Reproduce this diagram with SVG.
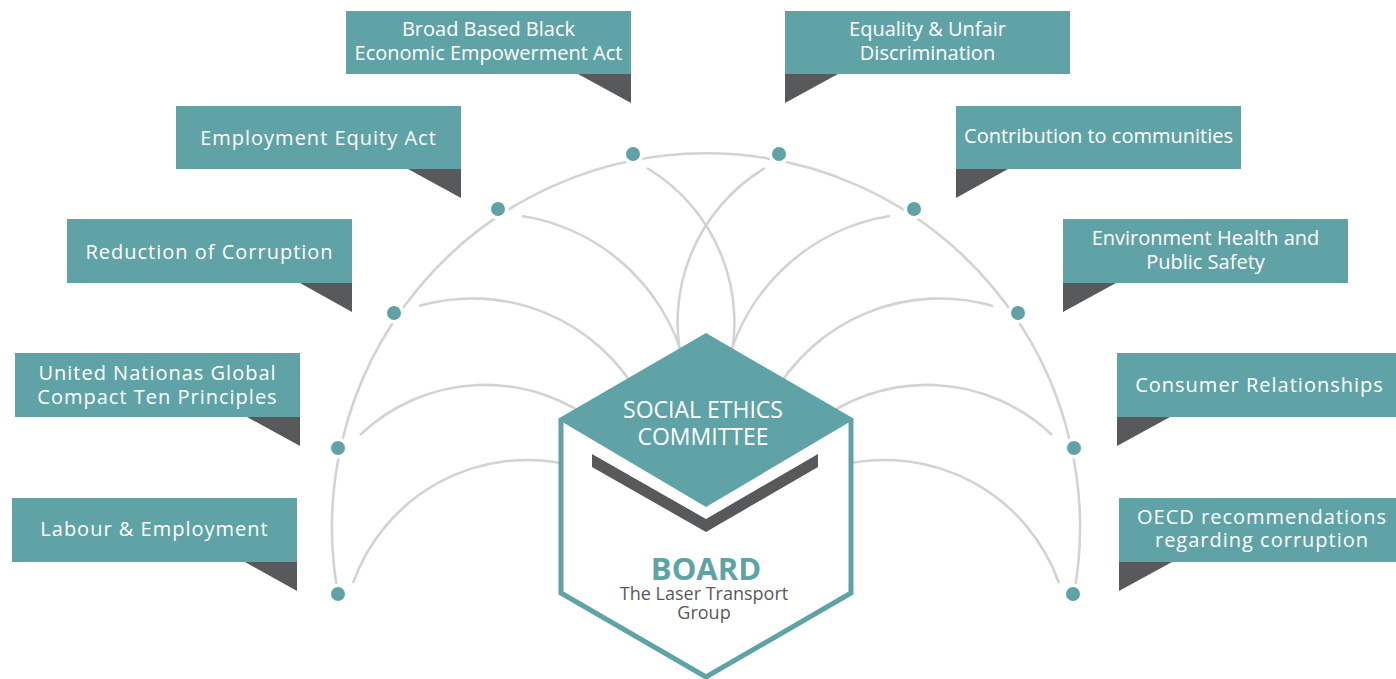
<svg xmlns="http://www.w3.org/2000/svg" width="1396" height="679" viewBox="0 0 1396 679">
<style>
.box{fill:#5fa3a6}
.flag{fill:#58595b}
.lbl{font-family:"Open Sans","Noto Sans","Liberation Sans",sans-serif;font-size:20px;fill:#ffffff;text-anchor:middle}
.sp{letter-spacing:1px}
.big{font-size:23px}
.sub{font-family:"Open Sans","Noto Sans","Liberation Sans",sans-serif;font-size:18px;fill:#58595b;text-anchor:middle}
.arc{fill:none;stroke:#d3d3d3;stroke-width:2.6}
.dot{fill:#5fa3a6;stroke:#ffffff;stroke-width:7;paint-order:stroke}
</style>
<rect width="1396" height="679" fill="#ffffff"/>
<g id="connectors">
<path class="arc" d="M338,594 A374,374 0 1 1 1074,594"/>
<path class="arc" d="M353,583 A185,185 0 0 1 570,465"/>
<path class="arc" d="M360,435 A181,181 0 0 1 600,426"/>
<path class="arc" d="M419,306 A192,192 0 0 1 640,397"/>
<path class="arc" d="M522,216 A200,200 0 0 1 688,380"/>
<path class="arc" d="M647,168 A180,180 0 0 1 728,370"/>
<path class="arc" d="M1059,583 A185,185 0 0 0 842,465"/>
<path class="arc" d="M1052,435 A181,181 0 0 0 812,426"/>
<path class="arc" d="M993,306 A192,192 0 0 0 772,397"/>
<path class="arc" d="M890,216 A200,200 0 0 0 724,380"/>
<path class="arc" d="M765,168 A180,180 0 0 0 684,370"/>
</g>
<g id="center">
<path d="M561,420 L561,593 L706,677 L851,593 L851,420 L706,336 Z" fill="#ffffff" stroke="#5fa3a6" stroke-width="5"/>
<path d="M706,334 L853,420 L706,507 L559,420 Z" fill="#5fa3a6"/>
<path d="M592,454 L706,519 L818,454 L818,467 L706,532 L592,467 Z" fill="#58595b"/>
<text class="lbl big" x="703" y="418">SOCIAL ETHICS</text>
<text class="lbl big" x="703" y="445">COMMITTEE</text>
<text x="706" y="580" text-anchor="middle" font-family="'Open Sans','Liberation Sans',sans-serif" font-weight="bold" font-size="31" fill="#5fa3a6">BOARD</text>
<text class="sub" x="704" y="600">The Laser Transport</text>
<text class="sub" x="704" y="619">Group</text>
</g>
<g id="n-bbbee">
<rect class="box" x="346" y="11" width="285" height="63"/>
<path class="flag" d="M578,74 L631,74 L631,103 Z"/>
<text class="lbl" x="488.5" y="35.5">Broad Based Black</text>
<text class="lbl" x="488.5" y="60">Economic Empowerment Act</text>
<circle class="dot" cx="633" cy="154" r="7"/>
</g>
<g id="n-eea">
<rect class="box" x="176" y="106" width="285" height="63"/>
<path class="flag" d="M408,169 L461,169 L461,198 Z"/>
<text class="lbl sp" x="318.5" y="145">Employment Equity Act</text>
<circle class="dot" cx="498" cy="209" r="7"/>
</g>
<g id="n-corruption">
<rect class="box" x="67" y="219" width="285" height="64"/>
<path class="flag" d="M300,283 L352,283 L352,312 Z"/>
<text class="lbl sp" x="209.5" y="258.5">Reduction of Corruption</text>
<circle class="dot" cx="394" cy="313" r="7"/>
</g>
<g id="n-ungc">
<rect class="box" x="15" y="353" width="285" height="64"/>
<path class="flag" d="M247,417 L300,417 L300,446 Z"/>
<text class="lbl sp" x="157.5" y="380">United Nationas Global</text>
<text class="lbl sp" x="157.5" y="404">Compact Ten Principles</text>
<circle class="dot" cx="338" cy="448" r="7"/>
</g>
<g id="n-labour">
<rect class="box" x="12" y="498" width="285" height="64"/>
<path class="flag" d="M245,562 L297,562 L297,591 Z"/>
<text class="lbl sp" x="154.5" y="536">Labour &amp; Employment</text>
<circle class="dot" cx="338" cy="594" r="7"/>
</g>
<g id="n-equality">
<rect class="box" x="785" y="11" width="285" height="63"/>
<path class="flag" d="M785,74 L838,74 L785,103 Z"/>
<text class="lbl" x="927.5" y="36">Equality &amp; Unfair</text>
<text class="lbl" x="927.5" y="60">Discrimination</text>
<circle class="dot" cx="779" cy="154" r="7"/>
</g>
<g id="n-communities">
<rect class="box" x="956" y="106" width="285" height="63"/>
<path class="flag" d="M956,169 L1008,169 L956,198 Z"/>
<text class="lbl" x="1098.5" y="143">Contribution to communities</text>
<circle class="dot" cx="914" cy="209" r="7"/>
</g>
<g id="n-environment">
<rect class="box" x="1063" y="219" width="285" height="64"/>
<path class="flag" d="M1063,283 L1116,283 L1063,312 Z"/>
<text class="lbl" x="1205.5" y="245">Environment Health and</text>
<text class="lbl" x="1205.5" y="268.5">Public Safety</text>
<circle class="dot" cx="1018" cy="313" r="7"/>
</g>
<g id="n-consumer">
<rect class="box" x="1117" y="353" width="285" height="64"/>
<path class="flag" d="M1117,417 L1170,417 L1117,446 Z"/>
<text class="lbl sp" x="1259.5" y="392">Consumer Relationships</text>
<circle class="dot" cx="1074" cy="448" r="7"/>
</g>
<g id="n-oecd">
<rect class="box" x="1119" y="498" width="285" height="64"/>
<path class="flag" d="M1119,562 L1172,562 L1119,591 Z"/>
<text class="lbl sp" x="1262" y="524">OECD recommendations</text>
<text class="lbl sp" x="1262" y="547">regarding corruption</text>
<circle class="dot" cx="1073" cy="594" r="7"/>
</g>
</svg>
